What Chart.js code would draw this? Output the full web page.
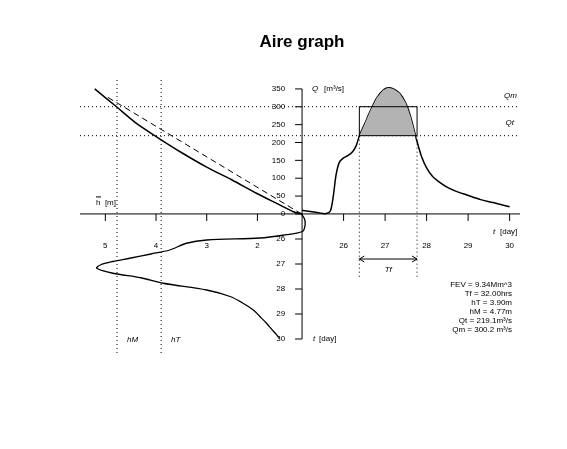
<!DOCTYPE html>
<html>
<head>
<meta charset="utf-8">
<script src="https://cdn.jsdelivr.net/npm/chart.js@4"></script>
<style>
  body { margin: 0; background: #fff; }
  #wrap { width: 567px; height: 449px; }
</style>
</head>
<body>
<div id="wrap"><canvas id="c" width="567" height="449"></canvas></div>
<script>
// Hydrograph Q(t), upper right
const hydroT = [25.0, 25.2, 25.4, 25.58, 25.68, 25.75, 25.82, 25.9, 26.0, 26.1, 26.2, 26.3, 26.38, 26.5, 26.65, 26.8, 26.95, 27.07, 27.2, 27.35, 27.5, 27.62, 27.76, 27.88, 28.0, 28.15, 28.3, 28.48, 28.7, 28.97, 29.3, 29.6, 30.0];
const hydroQ = [10, 7, 3, 1, 8, 48, 110, 145, 157, 163, 172, 190, 219, 250, 290, 325, 346, 353, 350, 338, 310, 270, 207, 160, 129, 104, 90, 76, 64, 53, 40, 32, 20];
// Rating curve Q(h), upper left
const ratingH = [1.13, 1.29, 1.6, 2.02, 2.5, 3.0, 3.5, 3.99, 4.4, 4.78, 5.21];
const ratingQ = [0, 6, 28, 58, 95, 131, 172, 216, 255, 300, 350];
const linearH = [1.13, 4.98];
const linearQ = [0, 329];
// Stage hydrograph h(t), lower left
const stageT = [25.0, 25.2, 25.45, 25.7, 25.85, 25.96, 26.04, 26.17, 26.44, 26.6, 26.77, 26.9, 27.04, 27.17, 27.37, 27.55, 27.77, 28.04, 28.3, 28.55, 28.84, 29.1, 29.37, 29.7, 29.97];
const stageH = [1.13, 1.07, 1.06, 1.11, 1.5, 1.95, 3.0, 3.4, 3.73, 4.1, 4.52, 4.85, 5.1, 5.17, 4.85, 4.3, 3.86, 3.0, 2.54, 2.3, 2.08, 1.95, 1.82, 1.68, 1.56];
// Flood parameters
const Qt = 219.1, Qm = 300.2, hT = 3.90, hM = 4.77, tStart = 26.38, tEnd = 27.77;
const tTicks = [26, 27, 28, 29, 30];
const hTicks = [5, 4, 3, 2];
const qTicks = [0, 50, 100, 150, 200, 250, 300, 350];
const infoLines = ['FEV = 9.34Mm^3', 'Tf = 32.00hrs', 'hT = 3.90m', 'hM = 4.77m', 'Qt = 219.1m³/s', 'Qm = 300.2 m³/s'];

const pts = (xs, ys, xk, yk) => xs.map((v, i) => ({ [xk]: v, [yk]: ys[i] }));
const xy = (xs, ys) => xs.map((v, i) => ({ x: v, y: ys[i] }));

// shaded region above Qt
const shadeT = [], shadeQ = [];
hydroT.forEach((t, i) => { if (t >= tStart && t <= tEnd) { shadeT.push(t); shadeQ.push(hydroQ[i]); } });

const FONT = '"Liberation Sans", Arial, sans-serif';

const axesPlugin = {
  id: 'axes',
  beforeDatasetsDraw(chart) {
    const { ctx, chartArea: a, scales: s } = chart;
    const X0 = s.xT.getPixelForValue(25), Y0 = s.yQ.getPixelForValue(0);
    ctx.save();
    ctx.strokeStyle = '#000'; ctx.lineWidth = 1; ctx.setLineDash([1, 3]);
    // Qt, Qm horizontal
    [Qt, Qm].forEach(q => { const y = s.yQ.getPixelForValue(q); ctx.beginPath(); ctx.moveTo(a.left, y); ctx.lineTo(a.right, y); ctx.stroke(); });
    // hM, hT vertical
    [hM, hT].forEach(h => { const x = s.xH.getPixelForValue(h); ctx.beginPath(); ctx.moveTo(x, a.top - 5); ctx.lineTo(x, a.bottom + 10); ctx.stroke(); });
    // Tf verticals
    [tStart, tEnd].forEach(t => { const x = s.xT.getPixelForValue(t); ctx.beginPath(); ctx.moveTo(x, s.yQ.getPixelForValue(Qt)); ctx.lineTo(x, s.yD.getPixelForValue(27.55)); ctx.stroke(); });
    ctx.restore();
  },
  afterDatasetsDraw(chart) {
    const { ctx, chartArea: a, scales: s } = chart;
    const X0 = s.xT.getPixelForValue(25), Y0 = s.yQ.getPixelForValue(0);
    ctx.save();
    ctx.strokeStyle = '#000'; ctx.fillStyle = '#000'; ctx.lineWidth = 1;
    // Tf box
    const bx1 = s.xT.getPixelForValue(tStart), bx2 = s.xT.getPixelForValue(tEnd);
    const by1 = s.yQ.getPixelForValue(Qm), by2 = s.yQ.getPixelForValue(Qt);
    ctx.strokeRect(bx1, by1, bx2 - bx1, by2 - by1);
    // main axes
    ctx.beginPath(); ctx.moveTo(a.left, Y0); ctx.lineTo(a.right, Y0);
    ctx.moveTo(X0, s.yQ.getPixelForValue(350)); ctx.lineTo(X0, s.yD.getPixelForValue(30)); ctx.stroke();
    ctx.font = '8px ' + FONT; ctx.textBaseline = 'middle';
    // t ticks right
    ctx.textAlign = 'center';
    tTicks.forEach(t => { const x = s.xT.getPixelForValue(t); ctx.beginPath(); ctx.moveTo(x, Y0); ctx.lineTo(x, Y0 + 7); ctx.stroke(); ctx.fillText(t, x, Y0 + 32); });
    hTicks.forEach(h => { const x = s.xH.getPixelForValue(h); ctx.beginPath(); ctx.moveTo(x, Y0); ctx.lineTo(x, Y0 + 7); ctx.stroke(); ctx.fillText(h, x, Y0 + 32); });
    ctx.textAlign = 'right';
    qTicks.forEach(q => { const y = s.yQ.getPixelForValue(q); ctx.beginPath(); ctx.moveTo(X0, y); ctx.lineTo(X0 - 7, y); ctx.stroke(); ctx.fillText(q, X0 - 17, y); });
    tTicks.forEach(t => { const y = s.yD.getPixelForValue(t); ctx.beginPath(); ctx.moveTo(X0, y); ctx.lineTo(X0 - 7, y); ctx.stroke(); ctx.fillText(t, X0 - 17, y); });
    // axis labels
    ctx.textAlign = 'left';
    ctx.font = 'italic 8px ' + FONT; ctx.fillText('Q', X0 + 10, s.yQ.getPixelForValue(350));
    ctx.font = '8px ' + FONT; ctx.fillText('[m³/s]', X0 + 22, s.yQ.getPixelForValue(350));
    ctx.font = 'italic 8px ' + FONT; ctx.fillText('t', X0 + 11, s.yD.getPixelForValue(30));
    ctx.font = '8px ' + FONT; ctx.fillText('[day]', X0 + 17, s.yD.getPixelForValue(30));
    ctx.font = 'italic 8px ' + FONT; ctx.fillText('t', 493, Y0 + 18);
    ctx.font = '8px ' + FONT; ctx.fillText('[day]', 500, Y0 + 18);
    ctx.fillText('h  [m]', 96, Y0 - 11);
    ctx.beginPath(); ctx.moveTo(96, Y0 - 17); ctx.lineTo(101, Y0 - 17); ctx.stroke();
    ctx.font = 'italic 8px ' + FONT;
    ctx.textAlign = 'right';
    ctx.fillText('Qm', 517, s.yQ.getPixelForValue(Qm) - 11);
    ctx.fillText('Qt', 514, s.yQ.getPixelForValue(Qt) - 13);
    ctx.textAlign = 'left';
    ctx.fillText('hM', s.xH.getPixelForValue(hM) + 10, 340);
    ctx.fillText('hT', s.xH.getPixelForValue(hT) + 10, 340);
    // Tf arrow
    const ay = s.yD.getPixelForValue(26.8);
    ctx.beginPath(); ctx.moveTo(bx1, ay); ctx.lineTo(bx2, ay);
    ctx.moveTo(bx1 + 5, ay - 3); ctx.lineTo(bx1, ay); ctx.lineTo(bx1 + 5, ay + 3);
    ctx.moveTo(bx2 - 5, ay - 3); ctx.lineTo(bx2, ay); ctx.lineTo(bx2 - 5, ay + 3); ctx.stroke();
    ctx.textAlign = 'center'; ctx.fillText('Tf', (bx1 + bx2) / 2, ay + 11);
    // info text
    ctx.font = '8px ' + FONT; ctx.textAlign = 'right';
    infoLines.forEach((l, i) => ctx.fillText(l, 512, 285 + i * 9));
    // title
    ctx.font = 'bold 17px ' + FONT; ctx.textAlign = 'center';
    ctx.fillText('Aire graph', 302, 42);
    ctx.restore();
  }
};

new Chart(document.getElementById('c'), {
  type: 'scatter',
  data: {
    datasets: [
      { data: xy(shadeT, shadeQ), xAxisID: 'xT', yAxisID: 'yQ', showLine: true, pointRadius: 0, borderWidth: 0,
        fill: { value: Qt }, backgroundColor: '#b3b3b3' },
      { data: xy(hydroT, hydroQ), xAxisID: 'xT', yAxisID: 'yQ', showLine: true, pointRadius: 0, borderColor: '#000', borderWidth: 1.5, tension: 0.3 },
      { data: xy(ratingH, ratingQ), xAxisID: 'xH', yAxisID: 'yQ', showLine: true, pointRadius: 0, borderColor: '#000', borderWidth: 1.5, tension: 0.3 },
      { data: xy(linearH, linearQ), xAxisID: 'xH', yAxisID: 'yQ', showLine: true, pointRadius: 0, borderColor: '#000', borderWidth: 1, borderDash: [6, 4] },
      { data: xy(stageH, stageT), xAxisID: 'xH', yAxisID: 'yD', showLine: true, pointRadius: 0, borderColor: '#000', borderWidth: 1.3, tension: 0.3 }
    ]
  },
  options: {
    responsive: false, animation: false,
    layout: { padding: { left: 80, right: 47, top: 85, bottom: 104 } },
    plugins: { legend: { display: false }, tooltip: { enabled: false } },
    scales: {
      xT: { type: 'linear', display: false, min: 19.65, max: 30.25 },
      xH: { type: 'linear', display: false, min: -3.18, max: 5.5, reverse: true },
      yQ: { type: 'linear', display: false, min: -367, max: 361 },
      yD: { type: 'linear', display: false, min: 19.84, max: 30.24, reverse: true }
    }
  },
  plugins: [axesPlugin]
});
</script>
</body>
</html>
